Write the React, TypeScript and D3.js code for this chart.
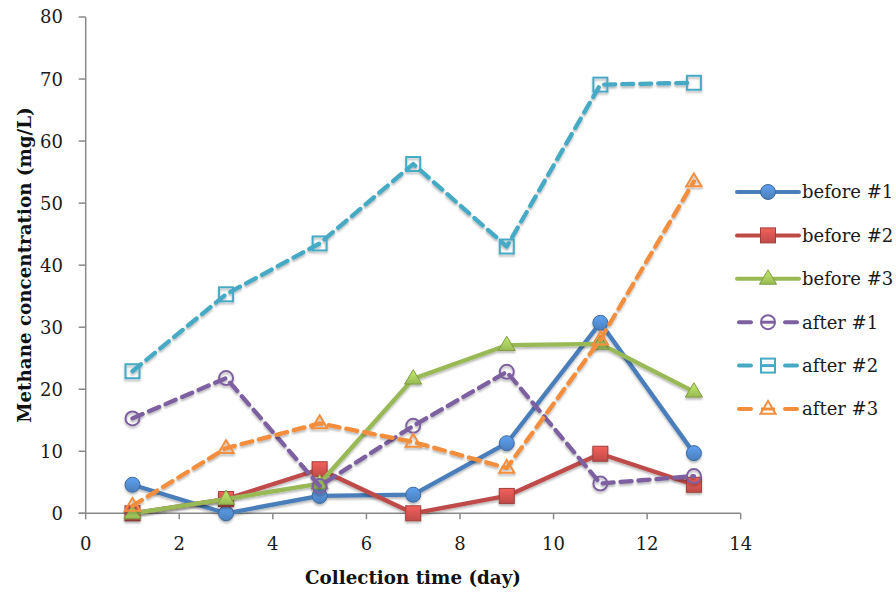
import React from "react";
import * as d3 from "d3";

const days = [1, 3, 5, 7, 9, 11, 13];
const before1 = [4.6, 0, 2.8, 3.0, 11.3, 30.7, 9.7];
const before2 = [0, 2.3, 7.1, 0, 2.8, 9.6, 4.6];
const before3 = [0, 2.3, 4.8, 21.7, 27.1, 27.3, 19.6];
const after1 = [15.3, 21.8, 4.4, 14.1, 22.8, 4.8, 6.0];
const after2 = [22.9, 35.3, 43.5, 56.3, 43.0, 69.1, 69.4];
const after3 = [1.2, 10.5, 14.5, 11.5, 7.3, 28.0, 53.5];
const xTicks = [0, 2, 4, 6, 8, 10, 12, 14];
const yTicks = [0, 10, 20, 30, 40, 50, 60, 70, 80];

type Shape = "circle" | "square" | "triangle";
const seriesList: { name: string; values: number[]; color: string; shape: Shape; dashed: boolean }[] = [
  { name: "before #1", values: before1, color: "#4A7EBB", shape: "circle", dashed: false },
  { name: "before #2", values: before2, color: "#BE4B48", shape: "square", dashed: false },
  { name: "before #3", values: before3, color: "#98B954", shape: "triangle", dashed: false },
  { name: "after #1", values: after1, color: "#7D60A0", shape: "circle", dashed: true },
  { name: "after #2", values: after2, color: "#46AAC5", shape: "square", dashed: true },
  { name: "after #3", values: after3, color: "#F28E3C", shape: "triangle", dashed: true },
];

const W = 896;
const H = 594;
const x = d3.scaleLinear().domain([0, 14]).range([85.7, 740.7]);
const y = d3.scaleLinear().domain([0, 80]).range([513.3, 17]);
const FONT = "'DejaVu Serif', serif";
const AXIS = "#898989";

function Marker({ cx, cy, shape, color, filled, id }: { cx: number; cy: number; shape: Shape; color: string; filled: boolean; id: string }) {
  const dark = d3.color(color)!.darker(0.5).formatHex();
  const fill = filled ? `url(#grad-${id})` : "none";
  const stroke = filled ? dark : color;
  const sw = filled ? 1 : 2;
  if (shape === "circle") {
    return <circle cx={cx} cy={cy} r={filled ? 7.5 : 7} fill={fill} stroke={stroke} strokeWidth={sw} />;
  }
  if (shape === "square") {
    const s = filled ? 15 : 14;
    return <rect x={cx - s / 2} y={cy - s / 2} width={s} height={s} fill={fill} stroke={stroke} strokeWidth={sw} />;
  }
  const r = filled ? 9 : 8;
  const pts = [
    [cx, cy - r],
    [cx + r * 0.95, cy + r * 0.6],
    [cx - r * 0.95, cy + r * 0.6],
  ];
  return <polygon points={pts.map((p) => p.join(",")).join(" ")} fill={fill} stroke={stroke} strokeWidth={sw} strokeLinejoin="miter" />;
}

export default function App() {
  const line = d3
    .line<number>()
    .x((_, i) => x(days[i]))
    .y((v) => y(v));

  const legendX0 = 737;
  const legendX1 = 799;
  const legendY0 = 192;
  const legendDY = 43.4;

  return (
    <svg width={W} height={H} style={{ position: "absolute", left: 0, top: 0, background: "#fff" }}>
      <defs>
        {seriesList.map((s, i) => (
          <linearGradient key={i} id={`grad-${i}`} x1="0" y1="0" x2="0" y2="1">
            <stop offset="0%" stopColor={d3.color(s.color)!.brighter(0.7).formatHex()} />
            <stop offset="100%" stopColor={s.color} />
          </linearGradient>
        ))}
        <filter id="shadow" x="-20%" y="-20%" width="140%" height="140%">
          <feDropShadow dx="0" dy="2" stdDeviation="1.3" floodColor="#000" floodOpacity="0.28" />
        </filter>
      </defs>

      {/* axes */}
      <line x1={x(0)} x2={x(0)} y1={y(80)} y2={y(0)} stroke={AXIS} strokeWidth={1.5} />
      <line x1={x(0) - 7} x2={x(14)} y1={y(0)} y2={y(0)} stroke={AXIS} strokeWidth={1.5} />
      {yTicks.map((t) => (
        <g key={`y${t}`}>
          <line x1={x(0) - 7} x2={x(0)} y1={y(t)} y2={y(t)} stroke={AXIS} strokeWidth={1.5} />
          <text x={63} y={y(t)} dy="0.36em" textAnchor="end" fontFamily={FONT} fontSize={18} fill="#1a1a1a">
            {t}
          </text>
        </g>
      ))}
      {xTicks.map((t) => (
        <g key={`x${t}`}>
          <line x1={x(t)} x2={x(t)} y1={y(0)} y2={y(0) + 6} stroke={AXIS} strokeWidth={1.5} />
          <text x={x(t)} y={550} textAnchor="middle" fontFamily={FONT} fontSize={18} fill="#1a1a1a">
            {t}
          </text>
        </g>
      ))}
      <text x={413} y={584} textAnchor="middle" fontFamily={FONT} fontSize={18.3} fontWeight="bold" fill="#111">
        Collection time (day)
      </text>
      <text transform="translate(31,265) rotate(-90)" textAnchor="middle" fontFamily={FONT} fontSize={18.3} fontWeight="bold" fill="#111">
        Methane concentration (mg/L)
      </text>

      {/* series */}
      {seriesList.map((s, i) => (
        <g key={s.name} filter="url(#shadow)">
          <path
            d={line(s.values) || ""}
            fill="none"
            stroke={s.color}
            strokeWidth={4.3}
            strokeDasharray={s.dashed ? "11 7" : undefined}
            strokeLinecap={s.dashed ? "round" : "butt"}
            strokeLinejoin="round"
          />
          {s.values.map((v, j) => (
            <Marker key={j} cx={x(days[j])} cy={y(v)} shape={s.shape} color={s.color} filled={!s.dashed} id={String(i)} />
          ))}
        </g>
      ))}

      {/* legend */}
      {seriesList.map((s, i) => {
        const ly = legendY0 + i * legendDY;
        const mx = (legendX0 + legendX1) / 2;
        return (
          <g key={`lg${i}`}>
            {s.dashed ? (
              <>
                <line x1={legendX0 + 2} x2={legendX0 + 14} y1={ly} y2={ly} stroke={s.color} strokeWidth={4} strokeLinecap="round" />
                <line x1={legendX1 - 14} x2={legendX1 - 2} y1={ly} y2={ly} stroke={s.color} strokeWidth={4} strokeLinecap="round" />
                <line x1={mx - 7} x2={mx + 7} y1={ly} y2={ly} stroke={s.color} strokeWidth={3} />
              </>
            ) : (
              <line x1={legendX0} x2={legendX1} y1={ly} y2={ly} stroke={s.color} strokeWidth={4} strokeLinecap="round" />
            )}
            <Marker cx={mx} cy={ly} shape={s.shape} color={s.color} filled={!s.dashed} id={String(i)} />
            <text x={802} y={ly} dy="0.36em" fontFamily={FONT} fontSize={18} fill="#1a1a1a">
              {s.name}
            </text>
          </g>
        );
      })}
    </svg>
  );
}
